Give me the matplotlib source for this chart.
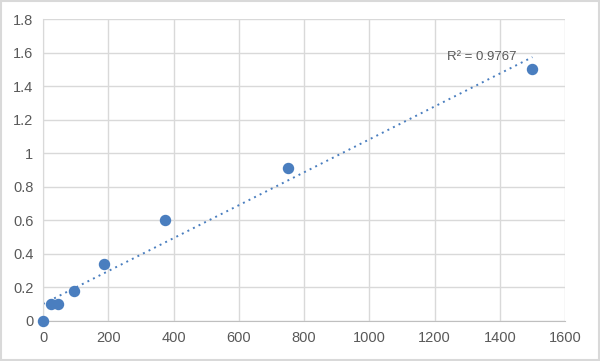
import numpy as np
import matplotlib.pyplot as plt
from matplotlib.patches import Rectangle

plt.rcParams['font.family'] = ['Liberation Sans', 'DejaVu Sans']

# standard curve data
conc = [0, 23.4, 46.9, 93.75, 187.5, 375, 750, 1500]
od = [0, 0.1, 0.1, 0.18, 0.34, 0.6, 0.91, 1.5]
xticks = [0, 200, 400, 600, 800, 1000, 1200, 1400, 1600]
yticks = [0, 0.2, 0.4, 0.6, 0.8, 1, 1.2, 1.4, 1.6, 1.8]
r2_label = "R² = 0.9767"

BLUE = '#4a7ebf'
GRID = '#d9d9d9'
TXT = '#595959'

fig = plt.figure(figsize=(6, 3.61), dpi=100)
ax = fig.add_axes([0.0717, 0.111, 0.87, 0.836])

# linear trendline (excel style)
x = np.array(conc)
y = np.array(od)
k, b = np.polyfit(x, y, 1)
xl = np.linspace(x.min(), x.max(), 100)
ax.plot(xl, k*xl + b, color=BLUE, linestyle=(0, (1, 2.2)), lw=1.4, zorder=2)

ax.scatter(conc, od, s=52, color=BLUE, zorder=3, clip_on=False)

ax.text(1345, 1.575, r2_label, color=TXT, fontsize=9.5, ha='center', va='center')

ax.set_xlim(0, 1600)
ax.set_ylim(0, 1.8)
ax.set_xticks(xticks)
ax.set_yticks(yticks)
ax.set_xticklabels([str(t) for t in xticks])
ax.set_yticklabels([('%g' % t) for t in yticks])
ax.grid(True, color=GRID, lw=1)
ax.set_axisbelow(True)
for s in ['top', 'right']:
    ax.spines[s].set_visible(False)
ax.spines['left'].set_color(GRID)
ax.spines['bottom'].set_color('#bfbfbf')
ax.tick_params(length=0, colors=TXT, labelsize=10.5, pad=7)

# outer chart border
fig.patches.append(Rectangle((0.002, 0.003), 0.996, 0.994, transform=fig.transFigure,
                             fill=False, edgecolor=GRID, lw=1.5))

fig.savefig('out.png', dpi=100)
